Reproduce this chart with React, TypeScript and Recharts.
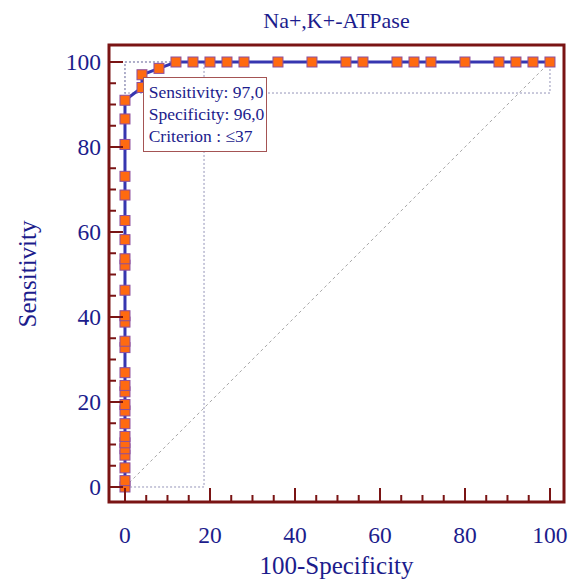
import React from "react";
import { LineChart, Line, XAxis, YAxis, ReferenceArea, ReferenceLine } from "recharts";

const TITLE = "Na+,K+-ATPase";
const X_LABEL = "100-Specificity";
const Y_LABEL = "Sensitivity";
const INFO_LINES = ["Sensitivity: 97,0", "Specificity: 96,0", "Criterion : \u226437"];

// ROC points: 100-Specificity (%) and Sensitivity (%)
const fpr = [
    0, 0, 0, 0, 0, 0, 0, 0, 0, 0, 0, 0, 0, 0, 0, 0, 0, 0, 0, 0, 0, 0, 0, 0, 0, 0, 0,
    4, 4, 8, 12, 16, 20, 24, 28, 36, 44, 52, 56, 64, 68, 72, 80, 88, 92, 96, 100,
];
const sensitivity = [
    0, 1.5, 4.5, 7.5, 9.0, 10.4, 11.9, 14.9, 17.9, 19.4, 22.4, 23.9, 26.9, 32.8, 34.3,
    38.8, 40.3, 46.3, 52.2, 53.7, 58.2, 62.7, 68.7, 73.1, 80.6, 86.6, 91.0,
    94.0, 97.0, 98.5, 100, 100, 100, 100, 100, 100, 100, 100, 100, 100, 100, 100, 100,
    100, 100, 100, 100,
];

const TICKS = [0, 5, 10, 15, 20, 25, 30, 35, 40, 45, 50, 55, 60, 65, 70, 75, 80, 85, 90, 95, 100];
const X_DOMAIN: [number, number] = [-3.76, 103.3];
const Y_DOMAIN: [number, number] = [-3.53, 104];

// 95% CI of the selected criterion
const CI_FPR: [number, number] = [0, 18.6];
const CI_SENS: [number, number] = [92.7, 100];

const data = fpr.map((x, i) => ({ fpr: x, sens: sensitivity[i] }));

const FONT = '"Liberation Serif", "Times New Roman", serif';
const TEXT = "#1c1c8c";
const FRAME = "#7a1414";
const LINE = "#3636b0";
const MARKER = "#ff6a10";
const MARKER_EDGE = "#8c4f9e";
const DOTTED = "#9494b8";

const W = 570;
const H = 575;
const AXIS = 50;
const M = { top: 37, right: 14, bottom: 81 - AXIS, left: 101 - AXIS };
const PLOT_LEFT = 101;
const PLOT_RIGHT = W - 14;

function XTick({ x, y, payload }: any) {
    const major = payload.value % 20 === 0;
    return (
        <g>
            <line x1={x} x2={x} y1={y} y2={y - (major ? 14 : 7)} stroke={FRAME} strokeWidth={2} />
            {major && (
                <text x={x} y={y + 41} textAnchor="middle" fill={TEXT} fontSize={23.5} fontFamily={FONT}>
                    {payload.value}
                </text>
            )}
        </g>
    );
}

function YTick({ x, y, payload }: any) {
    const major = payload.value % 20 === 0;
    return (
        <g>
            <line x1={x} x2={x + (major ? 14 : 7)} y1={y} y2={y} stroke={FRAME} strokeWidth={2} />
            {major && (
                <text x={x - 8} y={y + 8} textAnchor="end" fill={TEXT} fontSize={23.5} fontFamily={FONT}>
                    {payload.value}
                </text>
            )}
        </g>
    );
}

function renderSquare(props: any) {
    const { cx, cy, index } = props;
    if (cx == null || cy == null) return <g key={index} />;
    return (
        <rect
            key={index}
            x={cx - 5}
            y={cy - 5}
            width={10}
            height={10}
            fill={MARKER}
            stroke={MARKER_EDGE}
            strokeWidth={1}
        />
    );
}

export default function App() {
    return (
        <div style={{ position: "relative", width: W, height: H, fontFamily: FONT, color: TEXT }}>
            <LineChart width={W} height={H} data={data} margin={M}>
                <XAxis
                    dataKey="fpr"
                    type="number"
                    domain={X_DOMAIN}
                    ticks={TICKS}
                    interval={0}
                    height={AXIS}
                    tickSize={0}
                    tickMargin={0}
                    axisLine={false}
                    tickLine={false}
                    tick={<XTick />}
                />
                <YAxis
                    type="number"
                    domain={Y_DOMAIN}
                    ticks={TICKS}
                    interval={0}
                    width={AXIS}
                    tickSize={0}
                    tickMargin={0}
                    axisLine={false}
                    tickLine={false}
                    tick={<YTick />}
                />
                <ReferenceLine
                    segment={[{ x: 0, y: 0 }, { x: 100, y: 100 }]}
                    stroke="#a8a8a8"
                    strokeDasharray="3 3"
                />
                <ReferenceArea
                    x1={CI_FPR[0]}
                    x2={CI_FPR[1]}
                    y1={0}
                    y2={100}
                    fill="none"
                    fillOpacity={0}
                    stroke={DOTTED}
                    strokeDasharray="2 2"
                />
                <ReferenceArea
                    x1={0}
                    x2={100}
                    y1={CI_SENS[0]}
                    y2={CI_SENS[1]}
                    fill="none"
                    fillOpacity={0}
                    stroke={DOTTED}
                    strokeDasharray="2 2"
                />
                <ReferenceArea
                    x1={X_DOMAIN[0]}
                    x2={X_DOMAIN[1]}
                    y1={Y_DOMAIN[0]}
                    y2={Y_DOMAIN[1]}
                    fill="none"
                    fillOpacity={0}
                    stroke={FRAME}
                    strokeWidth={3}
                />
                <Line
                    dataKey="sens"
                    type="linear"
                    stroke={LINE}
                    strokeWidth={3}
                    dot={renderSquare}
                    activeDot={false}
                    isAnimationActive={false}
                />
            </LineChart>

            <div
                style={{
                    position: "absolute",
                    left: PLOT_LEFT,
                    width: PLOT_RIGHT - PLOT_LEFT,
                    top: 2,
                    textAlign: "center",
                    fontSize: 22,
                    lineHeight: "22px",
                }}
            >
                {TITLE}
            </div>

            <div
                style={{
                    position: "absolute",
                    left: 328.5,
                    top: 545,
                    transform: "translateX(-50%)",
                    fontSize: 25,
                    lineHeight: "25px",
                    whiteSpace: "nowrap",
                }}
            >
                {X_LABEL}
            </div>

            <div
                style={{
                    position: "absolute",
                    left: 19,
                    top: 265.5,
                    transform: "translate(-50%, -50%) rotate(-90deg)",
                    fontSize: 25,
                    lineHeight: "25px",
                    whiteSpace: "nowrap",
                }}
            >
                {Y_LABEL}
            </div>

            <div
                style={{
                    position: "absolute",
                    left: 134.7,
                    top: 69.3,
                    width: 124,
                    height: 74.4,
                    boxSizing: "border-box",
                    border: "1px solid #a45454",
                    background: "#fff",
                    padding: "4px 0 0 5px",
                    fontSize: 17.5,
                    lineHeight: "21.7px",
                    whiteSpace: "nowrap",
                }}
            >
                {INFO_LINES.map((t) => (
                    <div key={t}>{t}</div>
                ))}
            </div>
        </div>
    );
}
